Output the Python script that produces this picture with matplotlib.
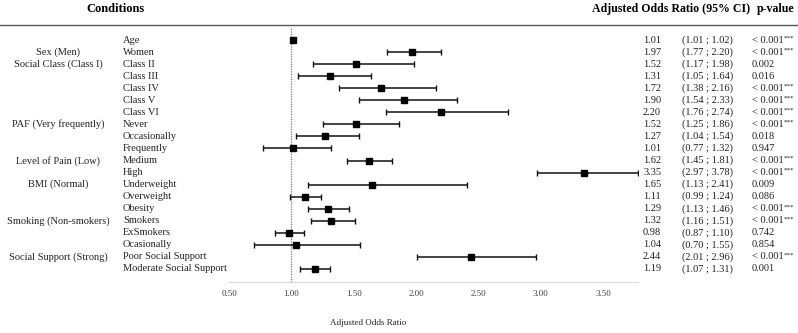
import numpy as np
import matplotlib.pyplot as plt
from matplotlib import transforms
from matplotlib.lines import Line2D

plt.rcParams['font.family'] = ['Liberation Serif', 'DejaVu Serif']

groups = ['', 'Sex (Men)', 'Social Class (Class I)', '', '', '', '',
          'PAF (Very frequently)', '', '', 'Level of Pain (Low)', '',
          'BMI (Normal)', '', '', 'Smoking (Non-smokers)', '', '',
          'Social Support (Strong)', '']
labels = ['Age', 'Women', 'Class II', 'Class III', 'Class IV', 'Class V',
          'Class VI', 'Never', 'Occasionally', 'Frequently', 'Medium', 'High',
          'Underweight', 'Overweight', 'Obesity', 'Smokers', 'ExSmokers',
          'Ocasionally', 'Poor Social Support', 'Moderate Social Support']
odds = [1.01, 1.97, 1.52, 1.31, 1.72, 1.90, 2.20, 1.52, 1.27, 1.01, 1.62,
        3.35, 1.65, 1.11, 1.29, 1.32, 0.98, 1.04, 2.44, 1.19]
lower = [1.01, 1.77, 1.17, 1.05, 1.38, 1.54, 1.76, 1.25, 1.04, 0.77, 1.45,
         2.97, 1.13, 0.99, 1.13, 1.16, 0.87, 0.70, 2.01, 1.07]
upper = [1.02, 2.20, 1.98, 1.64, 2.16, 2.33, 2.74, 1.86, 1.54, 1.32, 1.81,
         3.78, 2.41, 1.24, 1.46, 1.51, 1.10, 1.55, 2.96, 1.31]
pvals = ['< 0.001***', '< 0.001***', '0.002', '0.016', '< 0.001***',
         '< 0.001***', '< 0.001***', '< 0.001***', '0.018', '0.947',
         '< 0.001***', '< 0.001***', '0.009', '0.086', '< 0.001***',
         '< 0.001***', '0.742', '0.854', '< 0.001***', '0.001']
xticks = [0.5, 1.0, 1.5, 2.0, 2.5, 3.0, 3.5]

W, H = 798, 333
fig = plt.figure(figsize=(W / 100, H / 100), dpi=100)
ax = fig.add_axes([229 / W, 1 - 282 / H, (638 - 229) / W, (282 - 28) / H])

y = np.arange(len(labels))
odds = np.array(odds)
err = np.array([odds - np.array(lower), np.array(upper) - odds])
ax.errorbar(odds, y, xerr=err, fmt='s', color='black', ms=4,
            ecolor='#111111', elinewidth=1.1, capsize=2.2, capthick=1)
ax.axvline(1.0, color='#777777', ls=(0, (1, 1)), lw=0.9, zorder=0)

ax.set_xlim(0.5, 3.78)
ax.set_ylim(len(labels) - 1 + 1.08, -1)
for s in ['top', 'left', 'right']:
    ax.spines[s].set_visible(False)
ax.spines['bottom'].set_color('#d9d9d9')
ax.set_yticks([])
ax.set_xticks(xticks)
ax.set_xticklabels(['%.2f' % t for t in xticks], fontsize=6.5, color='#404040')
ax.tick_params(axis='x', length=0, pad=6)

tr = transforms.blended_transform_factory(fig.transFigure, ax.transData)
fs = 7.5
c = '#222222'
for i in range(len(labels)):
    if groups[i]:
        ax.text(58 / W, i, groups[i], transform=tr, ha='center', va='center', fontsize=fs, color=c)
    ax.text(123 / W, i, labels[i], transform=tr, ha='left', va='center', fontsize=fs, color=c)
    ax.text(643 / W, i, '%.2f' % odds[i], transform=tr, ha='left', va='center', fontsize=fs, color=c)
    ax.text(682 / W, i, '(%.2f ; %.2f)' % (lower[i], upper[i]), transform=tr, ha='left', va='center', fontsize=fs, color=c)
    p = pvals[i]
    stars = p.endswith('***')
    t = ax.text(752 / W, i, p.rstrip('*'), transform=tr, ha='left', va='center', fontsize=fs, color=c)
    if stars:
        ax.annotate('***', xy=(1, 0.45), xycoords=t, ha='left', va='bottom', fontsize=5, color=c)

fig.text(115 / W, 1 - 9 / H, 'Conditions', ha='center', va='center', fontsize=9, fontweight='bold')
fig.text(671 / W, 1 - 9 / H, 'Adjusted Odds Ratio (95% CI)', ha='center', va='center', fontsize=8.6, fontweight='bold')
fig.text(776 / W, 1 - 9 / H, 'p-value', ha='center', va='center', fontsize=8.6, fontweight='bold')
fig.add_artist(Line2D([0, 1], [1 - 24.5 / H, 1 - 24.5 / H], transform=fig.transFigure, color='#555555', lw=1))
fig.text(368 / W, 1 - 323 / H, 'Adjusted Odds Ratio', ha='center', va='center', fontsize=6.5, color=c)

fig.savefig('out.png', dpi=100)
